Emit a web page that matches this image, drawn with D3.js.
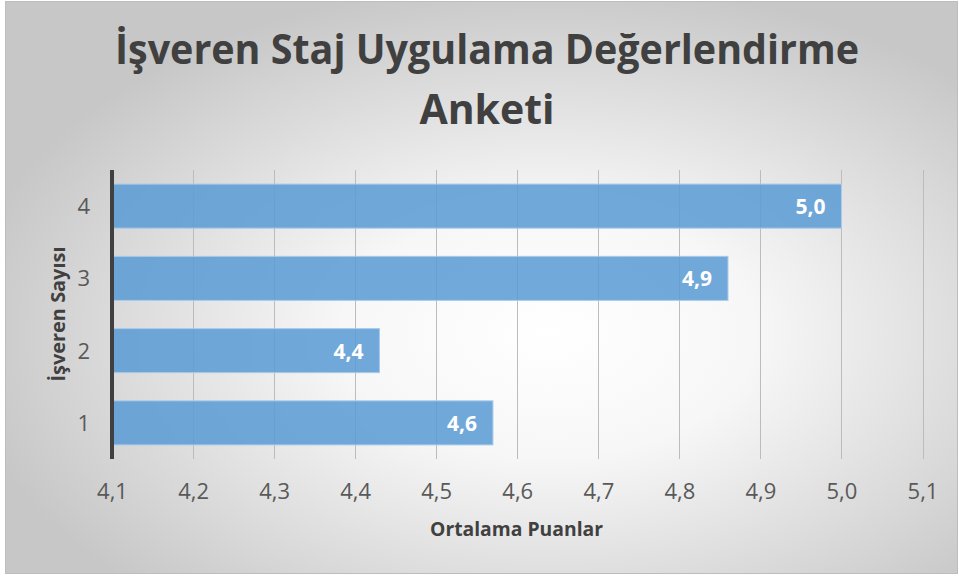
<!DOCTYPE html>
<html>
<head>
<meta charset="utf-8">
<script src="https://cdn.jsdelivr.net/npm/d3@7"></script>
<style>
  body { margin: 0; background: #fff; }
  svg { display: block; font-family: "Open Sans", sans-serif; }
</style>
</head>
<body>
<svg id="chart" width="959" height="578"></svg>
<script>
// data
var categories = ["1", "2", "3", "4"];
var values = [4.57, 4.43, 4.86, 5.0];
var xTicks = [4.1, 4.2, 4.3, 4.4, 4.5, 4.6, 4.7, 4.8, 4.9, 5.0, 5.1];
var titleLines = ["İşveren Staj Uygulama Değerlendirme", "Anketi"];
var xTitle = "Ortalama Puanlar";
var yTitle = "İşveren Sayısı";

var tr = d3.formatLocale({ decimal: ",", thousands: ".", grouping: [3], currency: ["", "₺"] });
var fmt = tr.format(".1f");

var svg = d3.select("#chart");
var defs = svg.append("defs");

var grad = defs.append("radialGradient")
    .attr("id", "bg")
    .attr("cx", "57%").attr("cy", "58%").attr("r", "62%")
    .attr("gradientUnits", "objectBoundingBox");
grad.append("stop").attr("offset", "0%").attr("stop-color", "#ffffff");
grad.append("stop").attr("offset", "35%").attr("stop-color", "#f7f7f7");
grad.append("stop").attr("offset", "100%").attr("stop-color", "#c7c7c7");

svg.append("rect")
    .attr("x", 5.5).attr("y", 1.5)
    .attr("width", 952).attr("height", 572)
    .attr("fill", "url(#bg)")
    .attr("stroke", "#bdbdbd")
    .attr("stroke-width", 1);

var plot = { left: 112, right: 922.5, top: 170, bottom: 459 };

var x = d3.scaleLinear().domain([4.1, 5.1]).range([plot.left, plot.right]);
var y = d3.scaleBand()
    .domain(categories.slice().reverse())
    .range([plot.top, plot.bottom])
    .paddingInner(0.39)
    .paddingOuter(0.195);

// title
svg.append("g").selectAll("text")
    .data(titleLines)
    .join("text")
    .attr("x", 487)
    .attr("y", function (d, i) { return i === 0 ? 64 : 124; })
    .attr("text-anchor", "middle")
    .attr("font-size", 41)
    .attr("font-weight", 700)
    .attr("fill", "#404040")
    .attr("textLength", function (d, i) { return i === 0 ? 744 : null; })
    .attr("lengthAdjust", "spacingAndGlyphs")
    .text(function (d) { return d; });

// gridlines
svg.append("g").selectAll("line")
    .data(xTicks.slice(1))
    .join("line")
    .attr("x1", function (d) { return Math.round(x(d)) + 0.5; })
    .attr("x2", function (d) { return Math.round(x(d)) + 0.5; })
    .attr("y1", plot.top)
    .attr("y2", plot.bottom)
    .attr("stroke", "#bcbcbc")
    .attr("stroke-width", 1);

// bars
svg.append("g").selectAll("rect")
    .data(values)
    .join("rect")
    .attr("x", x(4.1))
    .attr("y", function (d, i) { return y(categories[i]); })
    .attr("width", function (d) { return x(d) - x(4.1); })
    .attr("height", y.bandwidth())
    .attr("fill", "#5b9bd5")
    .attr("fill-opacity", 0.86)
    .attr("stroke", "#a9cbea")
    .attr("stroke-width", 1);

// value labels
svg.append("g").selectAll("text")
    .data(values)
    .join("text")
    .attr("x", function (d) { return x(d) - 16; })
    .attr("y", function (d, i) { return y(categories[i]) + y.bandwidth() / 2 + 8; })
    .attr("text-anchor", "end")
    .attr("font-size", 21)
    .attr("font-weight", 700)
    .attr("fill", "#ffffff")
    .text(function (d) { return fmt(d); });

// x axis labels
var xAxis = d3.axisBottom(x).tickValues(xTicks).tickFormat(fmt).tickSize(0).tickPadding(0);
var gx = svg.append("g")
    .attr("transform", "translate(0," + plot.bottom + ")")
    .call(xAxis);
gx.select(".domain").remove();
gx.selectAll("text")
    .attr("y", 40)
    .attr("dy", 0)
    .attr("font-size", 22)
    .attr("font-family", "Open Sans, sans-serif")
    .attr("fill", "#595959");

// y axis
var yAxis = d3.axisLeft(y).tickSize(0).tickPadding(0);
var gy = svg.append("g")
    .attr("transform", "translate(" + plot.left + ",0)")
    .call(yAxis);
gy.select(".domain").remove();
gy.selectAll("text")
    .attr("x", -22)
    .attr("dy", "0.36em")
    .attr("font-size", 22)
    .attr("font-family", "Open Sans, sans-serif")
    .attr("fill", "#595959");

svg.append("line")
    .attr("x1", plot.left).attr("x2", plot.left)
    .attr("y1", plot.top).attr("y2", plot.bottom)
    .attr("stroke", "#404040")
    .attr("stroke-width", 4);

// axis titles
svg.append("text")
    .attr("x", 516.5)
    .attr("y", 536)
    .attr("text-anchor", "middle")
    .attr("font-size", 20)
    .attr("font-weight", 700)
    .attr("fill", "#404040")
    .attr("textLength", 173)
    .attr("lengthAdjust", "spacingAndGlyphs")
    .text(xTitle);

svg.append("text")
    .attr("transform", "translate(65,314) rotate(-90)")
    .attr("text-anchor", "middle")
    .attr("font-size", 20)
    .attr("font-weight", 700)
    .attr("fill", "#404040")
    .attr("textLength", 135)
    .attr("lengthAdjust", "spacingAndGlyphs")
    .text(yTitle);
</script>
</body>
</html>
